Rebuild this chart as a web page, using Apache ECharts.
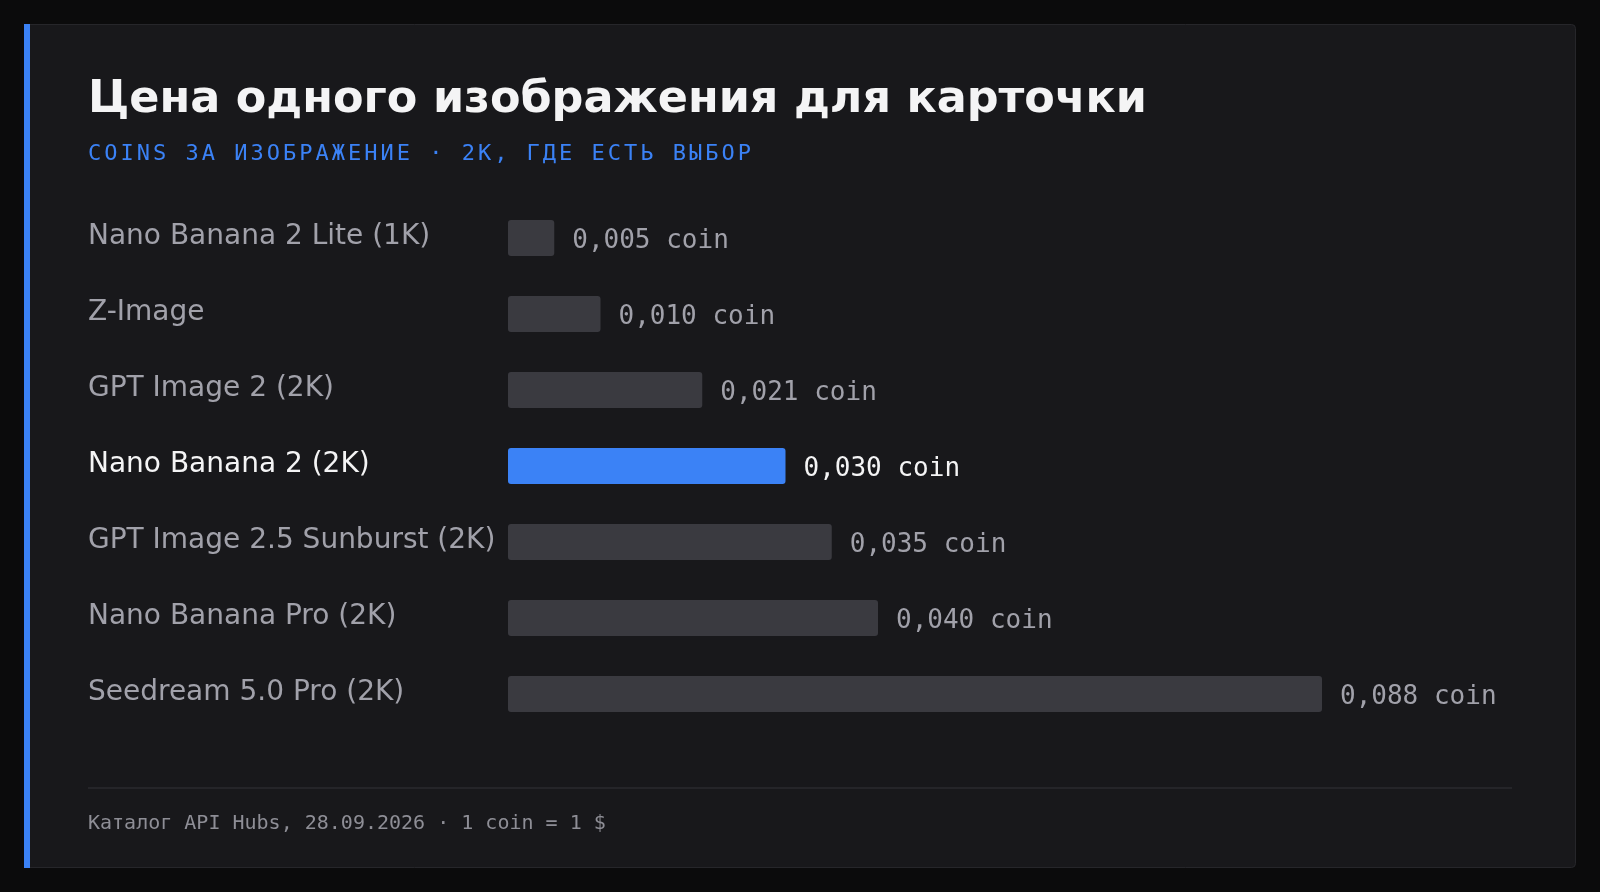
<!DOCTYPE html>
<html>
<head>
<meta charset="utf-8">
<style>
  html, body { margin: 0; padding: 0; background: #0b0b0c; }
  #chart { width: 1600px; height: 892px; }
</style>
<script src="https://cdn.jsdelivr.net/npm/echarts@6/dist/echarts.min.js"></script>
</head>
<body>
<div id="chart"></div>
<script>
// ---- data ----
const categories = [
  'Nano Banana 2 Lite (1K)',
  'Z-Image',
  'GPT Image 2 (2K)',
  'Nano Banana 2 (2K)',
  'GPT Image 2.5 Sunburst (2K)',
  'Nano Banana Pro (2K)',
  'Seedream 5.0 Pro (2K)'
];
const values = [0.005, 0.010, 0.021, 0.030, 0.035, 0.040, 0.088];
const highlighted = 'Nano Banana 2 (2K)';
const titleText = 'Цена одного изображения для карточки';
const subtitleText = 'COINS ЗА ИЗОБРАЖЕНИЕ · 2K, ГДЕ ЕСТЬ ВЫБОР';
const footerText = 'Каталог API Hubs, 28.09.2026 · 1 coin = 1 $';
const unit = 'coin';

const BLUE = '#3b82f6';
const GRAY_BAR = '#3a3a40';
const LABEL = '#a1a1aa';
const WHITE = '#f4f4f5';
const SANS = '"DejaVu Sans", sans-serif';
const MONO = '"DejaVu Sans Mono", monospace';
const SUB_ZLEVEL = 5;

const fmt = v => v.toFixed(3).replace('.', ',') + ' ' + unit;

const seriesData = values.map((v, i) => {
  const hl = categories[i] === highlighted;
  return {
    value: v,
    itemStyle: { color: hl ? BLUE : GRAY_BAR },
    label: { color: hl ? WHITE : LABEL }
  };
});

const chart = echarts.init(document.getElementById('chart'), null, { renderer: 'canvas' });

// separate canvas layer for the letter-spaced subtitle
try {
  const layer = chart.getZr().painter.getLayer(SUB_ZLEVEL);
  if (layer && layer.ctx && 'letterSpacing' in layer.ctx) layer.ctx.letterSpacing = '3px';
} catch (e) {}

chart.setOption({
  backgroundColor: '#0b0b0c',
  animation: false,
  graphic: [
    { type: 'rect', z: 0, shape: { x: 24.5, y: 24.5, width: 1551, height: 843, r: 4 },
      style: { fill: '#18181b', stroke: '#26262a', lineWidth: 1 } },
    { type: 'rect', z: 1, shape: { x: 24, y: 24, width: 6, height: 844 },
      style: { fill: BLUE } },
    { type: 'text', z: 1, x: 88, y: 100,
      style: { text: titleText, fill: WHITE, font: 'bold 44.5px ' + SANS, verticalAlign: 'middle', align: 'left' } },
    { type: 'text', zlevel: SUB_ZLEVEL, z: 1, x: 88, y: 154,
      style: { text: subtitleText, fill: BLUE, font: '22px ' + MONO, verticalAlign: 'middle', align: 'left' } },
    { type: 'line', z: 1, shape: { x1: 88, y1: 788, x2: 1512, y2: 788 },
      style: { stroke: '#252529', lineWidth: 2 } },
    { type: 'text', z: 1, x: 88, y: 824,
      style: { text: footerText, fill: '#8e8e96', font: '20px ' + MONO, verticalAlign: 'middle', align: 'left' } }
  ],
  grid: { left: 508, right: 167, top: 200, bottom: 160, containLabel: false },
  xAxis: {
    type: 'value', min: 0, max: 0.1, show: false
  },
  yAxis: {
    type: 'category',
    data: categories,
    inverse: true,
    axisLine: { show: false },
    axisTick: { show: false },
    splitLine: { show: false },
    axisLabel: {
      align: 'left',
      margin: 420,
      verticalAlign: 'middle',
      padding: [0, 0, 2, 0],
      formatter: v => (v === highlighted ? '{h|' + v + '}' : '{n|' + v + '}'),
      rich: {
        n: { color: LABEL, fontFamily: SANS, fontSize: 28 },
        h: { color: WHITE, fontFamily: SANS, fontSize: 28 }
      }
    }
  },
  series: [{
    type: 'bar',
    data: seriesData,
    barWidth: 36,
    itemStyle: { borderRadius: 3 },
    label: {
      show: true,
      position: 'right',
      distance: 18,
      offset: [0, 3],
      fontFamily: MONO,
      fontSize: 26,
      formatter: p => fmt(p.value)
    }
  }]
});
</script>
</body>
</html>
